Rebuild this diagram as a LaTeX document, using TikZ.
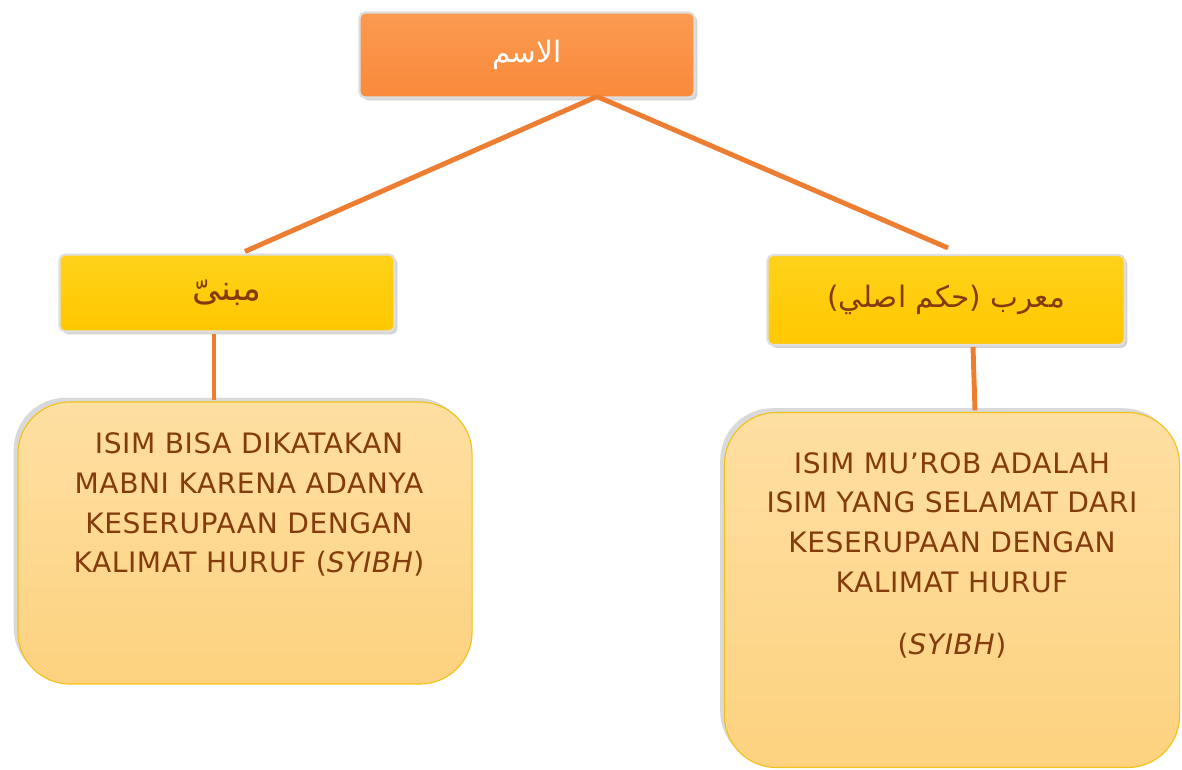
\documentclass[tikz,border=0pt]{standalone}
\usepackage{fontspec}
\setmainfont{DejaVu Sans}
\newfontfamily\notefont[LetterSpace=2]{DejaVu Sans}
\newfontfamily\arabicfont[Script=Arabic]{DejaVu Sans}
\TeXXeTstate=1
\usetikzlibrary{positioning, shadows}

\definecolor{isimorange}{HTML}{F98A3A}
\definecolor{isimorangetop}{HTML}{FB9A52}
\definecolor{kindyellow}{HTML}{FFC800}
\definecolor{kindyellowtop}{HTML}{FFD21A}
\definecolor{notetop}{HTML}{FEDFA2}
\definecolor{notebottom}{HTML}{FDD27F}
\definecolor{noteborder}{HTML}{F2C21B}
\definecolor{textbrown}{HTML}{843C0C}
\definecolor{linkorange}{HTML}{ED7D31}

\begin{document}
\begin{tikzpicture}[
	x=0.025cm, y=-0.025cm,
	headbox/.style={
		rectangle, rounded corners=4pt, draw=gray!25, line width=1.5pt,
		top color=isimorangetop, bottom color=isimorange,
		minimum width=8.375cm, minimum height=2.125cm, outer sep=0pt,
		drop shadow={shadow xshift=2pt, shadow yshift=-2pt, opacity=0.35},
		font=\arabicfont\fontsize{21}{24}\selectfont, text=white
	},
	kindbox/.style={
		rectangle, rounded corners=4pt, draw=gray!25, line width=1.5pt,
		top color=kindyellowtop, bottom color=kindyellow,
		minimum width=8.375cm, outer sep=0pt,
		drop shadow={shadow xshift=2pt, shadow yshift=-2pt, opacity=0.35},
		font=\arabicfont\fontsize{21}{24}\selectfont, text=textbrown
	},
	notebox/.style={
		rectangle, rounded corners=1.3cm, draw=noteborder, line width=0.8pt,
		top color=notetop, bottom color=notebottom, outer sep=0pt,
		drop shadow={shadow xshift=-3pt, shadow yshift=3pt, opacity=0.3}
	},
	notetext/.style={
		anchor=north, align=center, text=textbrown,
		font=\notefont\fontsize{20}{28.3}\selectfont
	},
	link/.style={draw=linkorange, line width=3.5pt}
	]
	\useasboundingbox (0,0) rectangle (1182,769);

	% Nodes
	\node[headbox] (isim) at (527,55) {\beginR الاسم\endR};
	\node[kindbox, minimum height=1.925cm, font=\arabicfont\fontsize{25}{28}\selectfont] (mabni) at (227,293) {\beginR مبنىّ\endR};
	\node[kindbox, minimum width=8.925cm, minimum height=2.25cm] (murab) at (946,300) {\beginR معرب (حكم اصلي)\endR};
	\node[notebox, minimum width=11.35cm, minimum height=7.05cm] (mabninote) at (245,543) {};
	\node[notebox, minimum width=11.375cm, minimum height=8.875cm] (murabnote) at (952,590) {};

	% Texts
	\node[notetext, below=0.64cm of mabninote.north, xshift=0.1cm] (mabnitext)
		{ISIM BISA DIKATAKAN\\ MABNI KARENA ADANYA\\ KESERUPAAN DENGAN\\ KALIMAT HURUF (\textit{SYIBH})};
	\node[notetext, below=0.87cm of murabnote.north] (murabtext)
		{ISIM MU’ROB ADALAH\\ ISIM YANG SELAMAT DARI\\ KESERUPAAN DENGAN\\ KALIMAT HURUF\\[0.55cm] (\textit{SYIBH})};

	% Lines
	\draw[link] ([shift={(70,-1)}]isim.south) -- ([shift={(18,-3)}]mabni.north);
	\draw[link] ([shift={(70,-1)}]isim.south) -- ([shift={(2,-7)}]murab.north);
	\draw[link] ([shift={(-13,2)}]mabni.south) -- ([shift={(-31,-2)}]mabninote.north);
	\draw[link] ([shift={(27,2)}]murab.south) -- ([shift={(23,-2)}]murabnote.north);
\end{tikzpicture}
\end{document}
